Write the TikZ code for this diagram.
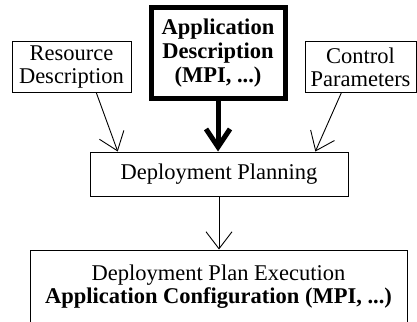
\documentclass[tikz,border=0pt]{standalone}
\usepackage{fontspec}
\setmainfont{Liberation Serif}
\usetikzlibrary{arrows.meta,calc}
\begin{document}
\begin{tikzpicture}[x=1pt,y=-1pt,
  box/.style={draw,line width=1pt,inner sep=0pt,align=center,font=\fontsize{22.5}{23}\selectfont},
  thinarrow/.style={line width=0.9pt,-{Straight Barb[length=17pt,width=26pt,line width=0.9pt]}},
  thickarrow/.style={line width=5pt,-{Straight Barb[length=18pt,width=24pt]}}]
\useasboundingbox (0,0) rectangle (417,321);
\clip (0,0) rectangle (417,321);
\node[box,minimum width=119pt,minimum height=50pt] (res) at (71.5,67) {Resource\\Description};
\node[box,line width=5pt,minimum width=134pt,minimum height=91pt,font=\bfseries\fontsize{22.5}{24}\selectfont] (app) at (218,53) {Application\\Description\\(MPI, ...)};
\node[box,minimum width=111pt,minimum height=50pt] (ctl) at (360.5,67) {Control\\Parameters};
\node[box,minimum width=258pt,minimum height=44pt] (plan) at (219,174) {Deployment Planning};
\node[draw,line width=1pt,minimum width=377pt,minimum height=110pt,anchor=north] (exec) at (218.5,249.5) {};
\node[align=center,inner sep=0pt,font=\fontsize{22.5}{23}\selectfont,anchor=base] (exectext) at (218.5,303) {Deployment Plan Execution\\\textbf{Application Configuration (MPI, ...)}};
\draw[thinarrow] ($(res.south west)!0.706!(res.south east)$) -- ($(plan.north west)!0.109!(plan.north east)$);
\draw[thinarrow] ($(ctl.south west)!0.33!(ctl.south east)$) -- ($(plan.north west)!0.872!(plan.north east)$);
\draw[thickarrow] (app.south) -- (app.south |- plan.north);
\draw[thinarrow] (plan.south) -- (plan.south |- exec.north);
\end{tikzpicture}
\end{document}
